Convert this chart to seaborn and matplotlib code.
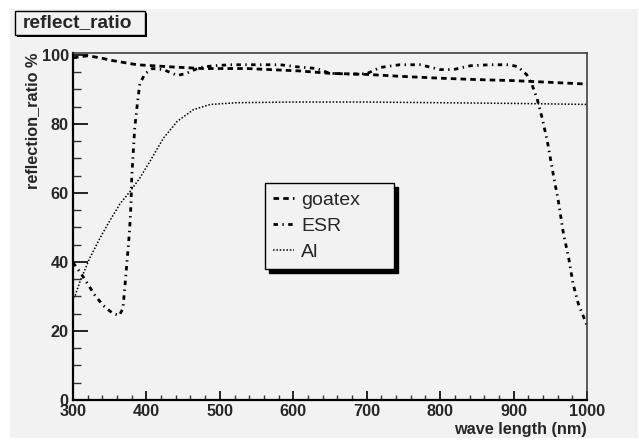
import matplotlib
matplotlib.use('Agg')
import matplotlib.pyplot as plt
import seaborn as sns
from matplotlib.patches import Rectangle
from matplotlib.ticker import MultipleLocator

# ---- data ----
goatex_wl = [300, 320, 337, 354, 387, 432, 477, 537, 609, 650, 700, 750, 800, 850, 900, 950, 1000]
goatex_val = [99.1, 99.7, 99.1, 98.3, 97.1, 96.5, 96.0, 96.0, 95.3, 94.6, 94.3, 93.7, 93.2, 92.8, 92.5, 92.0, 91.5]

esr_wl = [300, 311, 330, 341, 354, 363, 368, 371, 374, 377, 379, 380, 384, 388, 391, 398, 408, 423,
          442, 453, 473, 491, 514, 582, 605, 632, 650, 680, 700, 718, 745, 773, 800, 818, 841, 868,
          895, 906, 918, 925, 932, 939, 946, 954, 961, 968, 975, 981, 988, 1000]
esr_val = [39.8, 36.6, 30.3, 27.4, 25.1, 24.5, 26.5, 33.7, 41.2, 49.0, 56.8, 64.5, 78.7, 86.5, 91.6,
           94.5, 96.0, 95.7, 94.0, 94.5, 96.3, 96.8, 97.1, 97.1, 96.5, 96.0, 94.6, 94.4, 94.5, 96.3,
           97.1, 97.1, 95.7, 95.7, 96.8, 97.1, 97.1, 96.5, 94.2, 91.4, 87.3, 81.6, 74.9, 65.4, 57.6,
           48.1, 41.2, 33.7, 28.0, 21.6]

al_wl = [300, 303, 310, 323, 337, 350, 364, 378, 391, 405, 423, 442, 464, 487, 523, 600, 700, 800, 900, 1000]
al_val = [29.5, 30.3, 34.6, 41.2, 47.0, 51.9, 56.8, 60.5, 64.3, 69.2, 75.8, 80.7, 84.1, 85.6, 86.1,
          86.3, 86.3, 86.1, 85.9, 85.6]

series_names = ["goatex", "ESR", "Al"]
title_text = "reflect_ratio"
x_label = "wave length (nm)"
y_label = "reflection_ratio %"

# ---- style ----
sns.set_theme(style='white')
plt.rcParams['font.family'] = ['Liberation Sans', 'DejaVu Sans']

W, H = 639, 441
fig = plt.figure(figsize=(W / 100, H / 100), dpi=100)
fig.patch.set_facecolor('white')
fig.patches.append(Rectangle((10 / W, 3 / H), 628 / W, 429 / H, transform=fig.transFigure,
                             facecolor='#f2f2f2', edgecolor='none', zorder=-10))

ax = fig.add_axes([73 / W, 41 / H, 514 / W, 347 / H])
ax.set_facecolor('#f2f2f2')

sns.lineplot(x=goatex_wl, y=goatex_val, ax=ax, color='black', lw=2.0,
             linestyle=(0, (2.0, 1.5)), label=series_names[0])
sns.lineplot(x=esr_wl, y=esr_val, ax=ax, color='black', lw=2.0,
             linestyle=(0, (1.6, 1.6, 0.5, 1.6)), label=series_names[1])
sns.lineplot(x=al_wl, y=al_val, ax=ax, color='black', lw=1.1,
             linestyle=(0, (1.0, 1.2)), label=series_names[2])

ax.set_xlim(300, 1000)
ax.set_ylim(0, 100.5)
ax.xaxis.set_major_locator(MultipleLocator(100))
ax.xaxis.set_minor_locator(MultipleLocator(20))
ax.yaxis.set_major_locator(MultipleLocator(20))
ax.yaxis.set_minor_locator(MultipleLocator(5))

ax.tick_params(axis='x', which='major', direction='in', length=6.5, width=1.2, color='black',
               labelsize=11.7, pad=3, bottom=True, top=False)
ax.tick_params(axis='x', which='minor', direction='in', length=3.6, width=1.0, color='#333333',
               bottom=True, top=False)
ax.tick_params(axis='y', which='major', direction='in', length=10.8, width=1.2, color='black',
               labelsize=11.7, pad=3, left=True, right=False)
ax.tick_params(axis='y', which='minor', direction='in', length=5.8, width=1.0, color='#333333',
               left=True, right=False)
for lab in ax.get_xticklabels() + ax.get_yticklabels():
    lab.set_fontweight('bold')

for side in ['left', 'bottom']:
    ax.spines[side].set_color('black')
    ax.spines[side].set_linewidth(1.6)
for side in ['top', 'right']:
    ax.spines[side].set_color('#333333')
    ax.spines[side].set_linewidth(1.1)

ax.set_xlabel(x_label, fontsize=11.7, fontweight='bold', loc='right')
ax.set_ylabel(y_label, fontsize=11.7, fontweight='bold', loc='top')
ax.xaxis.set_label_coords(1.0, -0.064)
ax.yaxis.set_label_coords(-0.064, 1.0)

leg = ax.legend(loc='upper left', bbox_to_anchor=(0.3735, 0.3775, 0.251, 0.2475), mode='expand',
                fontsize=14, frameon=True, fancybox=False, framealpha=1,
                edgecolor='black', facecolor='#f2f2f2',
                shadow={'ox': 3, 'oy': -3, 'color': 'black', 'alpha': 1},
                handlelength=1.1, handletextpad=0.35, labelspacing=0.45, borderpad=0.4,
                borderaxespad=0)
leg.get_frame().set_linewidth(1.0)

# title box with shadow
fig.patches.append(Rectangle((17 / W, (H - 37) / H), 130 / W, 24 / H, transform=fig.transFigure,
                             facecolor='black', edgecolor='none', zorder=1))
fig.patches.append(Rectangle((15 / W, (H - 35) / H), 130 / W, 24 / H, transform=fig.transFigure,
                             facecolor='#f2f2f2', edgecolor='black', lw=1.0, zorder=2))
fig.text(23 / W, (H - 23) / H, title_text, fontsize=13.8, fontweight='bold',
         ha='left', va='center', zorder=3)

fig.savefig('out.png', dpi=100, facecolor=fig.get_facecolor())
